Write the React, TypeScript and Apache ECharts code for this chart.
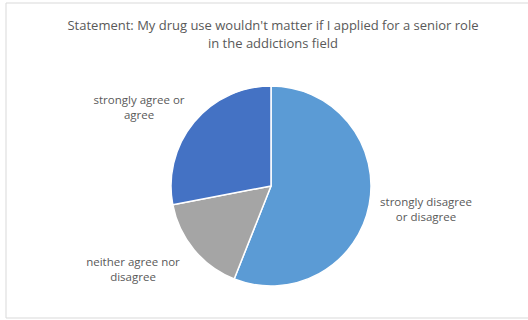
import React, { useEffect, useRef } from "react";
import * as echarts from "echarts";

const categories = [
  "strongly disagree\nor disagree",
  "neither agree nor\ndisagree",
  "strongly agree or\nagree",
];
const values = [56, 16, 28];
const colors = ["#5B9BD5", "#A5A5A5", "#4472C4"];
const titleText =
  "Statement: My drug use wouldn't matter if I applied for a senior role\nin the addictions field";

const labelPos = [
  { x: 426, y: 209 },
  { x: 133, y: 269 },
  { x: 139, y: 107 },
];

export default function App() {
  const ref = useRef<HTMLDivElement>(null);
  useEffect(() => {
    if (!ref.current) return;
    const chart = echarts.init(ref.current, null, { renderer: "svg" });
    chart.setOption({
      animation: false,
      backgroundColor: "#ffffff",
      title: {
        text: titleText,
        left: 268,
        top: 11,
        textAlign: "center",
        textStyle: {
          fontFamily: "Open Sans",
          fontSize: 13,
          fontWeight: "normal",
          color: "#595959",
          lineHeight: 18,
        },
      },
      graphic: [
        {
          type: "rect",
          shape: { x: 6, y: 3, width: 530, height: 315 },
          style: { fill: "none", stroke: "#D9D9D9", lineWidth: 1 },
          silent: true,
        },
      ],
      series: [
        {
          type: "pie",
          center: [271, 186],
          radius: [0, 100],
          startAngle: 90,
          clockwise: true,
          data: categories.map((name, i) => ({
            name,
            value: values[i],
            itemStyle: { color: colors[i] },
          })),
          itemStyle: { borderColor: "#ffffff", borderWidth: 1.5 },
          label: {
            show: true,
            position: "outside",
            formatter: "{b}",
            fontFamily: "Open Sans",
            fontSize: 11.5,
            color: "#595959",
            lineHeight: 15,
            align: "center",
          },
          labelLine: { show: false },
          labelLayout: (params: any) => {
            const p = labelPos[params.dataIndex];
            return { x: p.x, y: p.y, align: "center", verticalAlign: "middle" };
          },
        },
      ],
    });
    return () => chart.dispose();
  }, []);
  return (
    <div
      ref={ref}
      style={{ position: "fixed", left: 0, top: 0, width: 528, height: 320 }}
    />
  );
}
